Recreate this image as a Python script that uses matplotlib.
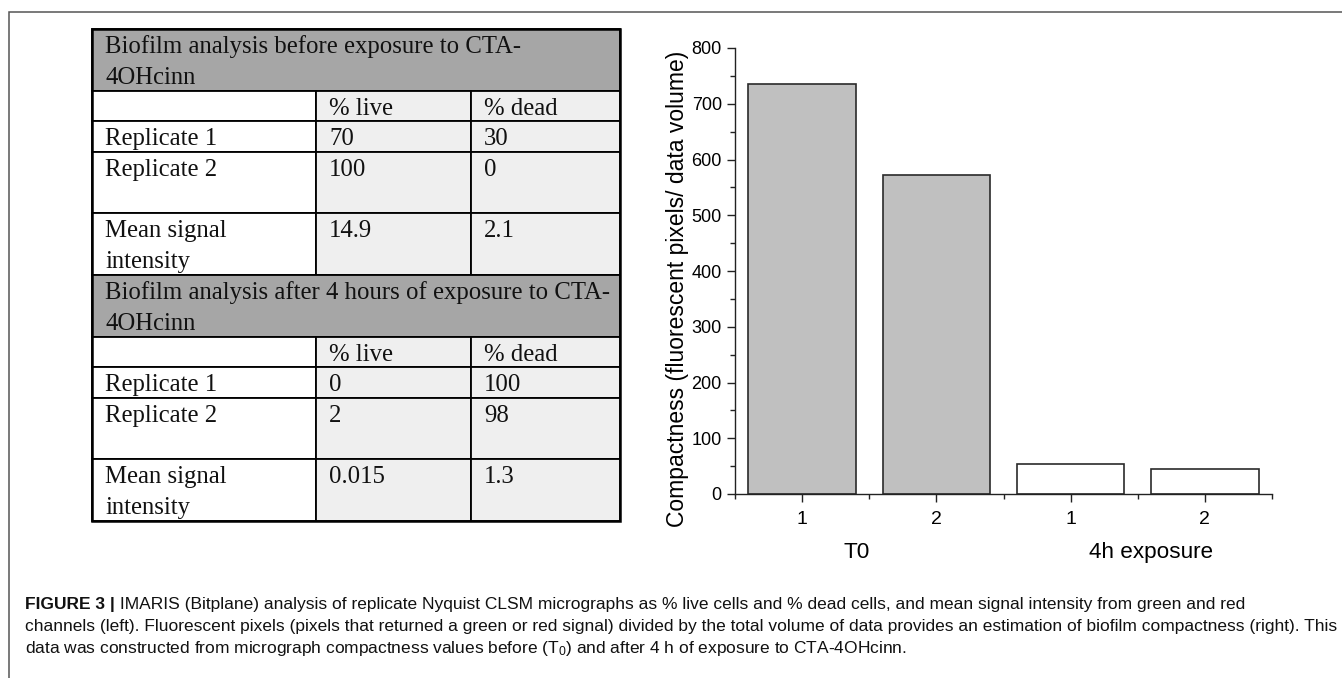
import numpy as np
import matplotlib
matplotlib.use('Agg')
import matplotlib.pyplot as plt
from matplotlib.patches import Rectangle
import matplotlib.transforms as mtransforms

# bar chart data
replicates = ['1', '2', '1', '2']
groups = ['T0', '4h exposure']
group_of_bar = [0, 0, 1, 1]
compactness = [736, 573, 54, 45]

# table data
table_titles = ['Biofilm analysis before exposure to CTA-\n4OHcinn',
                'Biofilm analysis after 4 hours of exposure to CTA-\n4OHcinn']
col_labels = ['% live', '% dead']
row_labels = ['Replicate 1', 'Replicate 2', 'Mean signal\nintensity']
live_before = ['70', '100', '14.9']
dead_before = ['30', '0', '2.1']
live_after = ['0', '2', '0.015']
dead_after = ['100', '98', '1.3']

caption_bold = 'FIGURE 3 |'
caption_lines = [
    ' IMARIS (Bitplane) analysis of replicate Nyquist CLSM micrographs as % live cells and % dead cells, '
    'and mean signal intensity from green and red',
    'channels (left). Fluorescent pixels (pixels that returned a green or red signal) divided by the total '
    'volume of data provides an estimation of biofilm compactness (right). This',
    'data was constructed from micrograph compactness values before (T$_0$) and after 4 h of exposure to CTA-4OHcinn.',
]

plt.rcParams['font.family'] = ['Liberation Sans', 'DejaVu Sans']
plt.rcParams['mathtext.fontset'] = 'custom'
plt.rcParams['mathtext.rm'] = 'Liberation Sans'
plt.rcParams['mathtext.it'] = 'Liberation Sans'

W, H = 1342, 678
fig = plt.figure(figsize=(W / 100, H / 100), dpi=100)

# layout axes in pixel units
lay = fig.add_axes([0, 0, 1, 1])
lay.set_xlim(0, W)
lay.set_ylim(H, 0)
lay.axis('off')

# frame lines (top and left)
lay.plot([9, 9, W], [H, 12, 12], color='#555555', lw=1.1, solid_joinstyle='miter')

# ---- table ----
col_x = [92, 316, 471, 620]
row_h = [62, 30, 31, 61, 62]
header_c = '#a6a6a6'
light_c = '#efefef'
serif = ['Liberation Serif', 'DejaVu Serif']
tfs = 17.8


def cell_text(x, top, txt):
    for i, line in enumerate(txt.split('\n')):
        lay.text(x + 13, top + 24 + i * 31, line, family=serif, fontsize=tfs,
                 va='baseline', ha='left', color='#111111')


top = 29
blocks = [(table_titles[0], live_before, dead_before),
          (table_titles[1], live_after, dead_after)]
for title, live, dead in blocks:
    y = top
    # title row
    lay.add_patch(Rectangle((col_x[0], y), col_x[3] - col_x[0], row_h[0],
                            facecolor=header_c, edgecolor='black', lw=1.3))
    cell_text(col_x[0], y, title)
    y += row_h[0]
    # column header row and data rows
    rows = [('', col_labels[0], col_labels[1])]
    rows += [(row_labels[i], live[i], dead[i]) for i in range(3)]
    for k, (a, b, c) in enumerate(rows):
        h = row_h[k + 1]
        for j, (txt, fc) in enumerate(zip((a, b, c), ('white', light_c, light_c))):
            lay.add_patch(Rectangle((col_x[j], y), col_x[j + 1] - col_x[j], h,
                                    facecolor=fc, edgecolor='black', lw=1.3))
            if txt:
                cell_text(col_x[j], y, txt)
        y += h
    top = y

# outer table border
lay.add_patch(Rectangle((col_x[0], 29), col_x[3] - col_x[0], top - 29,
                        facecolor='none', edgecolor='black', lw=1.8))

# ---- bar chart ----
ax = fig.add_axes([735 / W, 1 - 494 / H, 537 / W, 446 / H])
x = np.arange(1, len(compactness) + 1)
bar_colors = ['#c0c0c0' if g == 0 else 'white' for g in group_of_bar]
ax.bar(x, compactness, width=0.8, color=bar_colors, edgecolor='#2a2a2a', linewidth=1.2)
ax.set_xlim(0.5, 4.5)
ax.set_ylim(0, 800)
ax.set_xticks(x)
ax.set_xticklabels(replicates)
ax.set_xticks(np.arange(0.5, 4.6, 1), minor=True)
ax.set_yticks(np.arange(0, 801, 100))
ax.set_yticks(np.arange(50, 800, 100), minor=True)
for s in ['top', 'right']:
    ax.spines[s].set_visible(False)
for s in ['left', 'bottom']:
    ax.spines[s].set_linewidth(1.0)
    ax.spines[s].set_color('#222222')
ax.tick_params(which='major', direction='out', length=5.5, width=1.0,
               pad=4, color='#222222')
ax.tick_params(axis='y', which='major', labelsize=13)
ax.tick_params(axis='x', which='major', labelsize=14, pad=7)
ax.tick_params(which='minor', direction='out', length=3.5, width=1.0, color='#222222')
ax.set_ylabel('Compactness (fluorescent pixels/ data volume)', fontsize=16.5)
ax.yaxis.set_label_coords(-0.086, 0.46)

trans = mtransforms.blended_transform_factory(ax.transData, ax.transAxes)
group_pos = [1.41, 3.60]
for g, gx in zip(groups, group_pos):
    ax.text(gx, -0.132, g, transform=trans, ha='center', va='center', fontsize=16.2)

# ---- caption ----
cap_family = ['Liberation Sans Narrow', 'Liberation Sans', 'DejaVu Sans']
cap_fs = 13
renderer = fig.canvas.get_renderer()
baselines = [609, 631, 653]

# fit line 2 width to reference
probe = lay.text(25, baselines[1], caption_lines[1], family=cap_family, fontsize=cap_fs, va='baseline')
bb = probe.get_window_extent(renderer)
cap_fs = cap_fs * (1336 - 25) / bb.width
probe.remove()

t_bold = lay.text(25, baselines[0], caption_bold, family=cap_family, fontsize=cap_fs,
                  fontweight='bold', va='baseline', color='#111111')
bb = t_bold.get_window_extent(renderer)
lay.text(25 + bb.width, baselines[0], caption_lines[0], family=cap_family, fontsize=cap_fs,
         va='baseline', color='#111111')
for line, yb in zip(caption_lines[1:], baselines[1:]):
    lay.text(25, yb, line, family=cap_family, fontsize=cap_fs, va='baseline', color='#111111')

fig.savefig('out.png', dpi=100)
